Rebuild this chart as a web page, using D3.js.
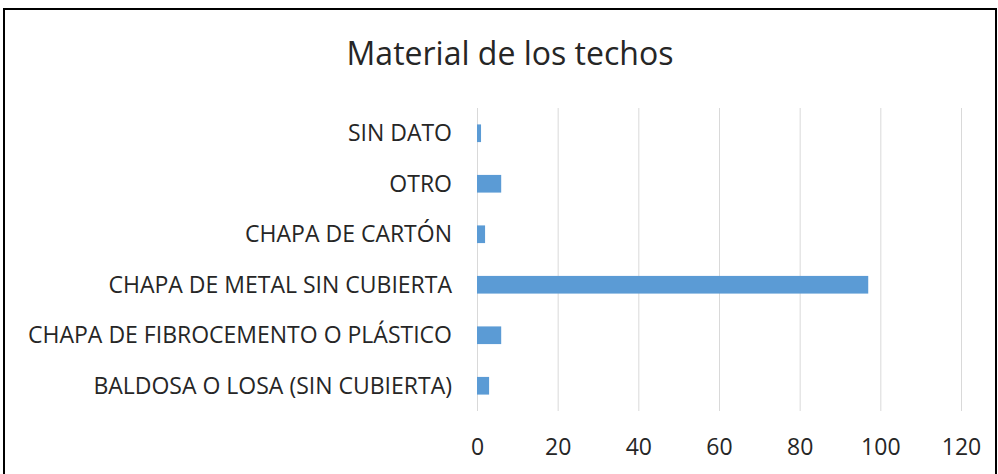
<!DOCTYPE html>
<html>
<head>
<meta charset="utf-8">
<script src="https://cdn.jsdelivr.net/npm/d3@7"></script>
<style>
	body { margin: 0; background: #fff; }
	svg text { font-family: "Open Sans", "Noto Sans", sans-serif; fill: #262626; }
</style>
</head>
<body>
<svg id="svg_main" width="998" height="474"></svg>
<script>
var categories = ["SIN DATO", "OTRO", "CHAPA DE CARTÓN", "CHAPA DE METAL SIN CUBIERTA",
	"CHAPA DE FIBROCEMENTO O PLÁSTICO", "BALDOSA O LOSA (SIN CUBIERTA)"];
var values = [1, 6, 2, 97, 6, 3];
var xTicks = [0, 20, 40, 60, 80, 100, 120];
var title = "Material de los techos";

var svg = d3.select("#svg_main");

// chart frame
svg.append("rect")
	.attr("x", 4)
	.attr("y", 9)
	.attr("width", 992)
	.attr("height", 480)
	.attr("fill", "none")
	.attr("stroke", "#000")
	.attr("stroke-width", 2);

svg.append("text")
	.attr("x", 510)
	.attr("y", 65)
	.attr("text-anchor", "middle")
	.attr("font-size", "32px")
	.text(title);

var x = d3.scaleLinear().domain([0, 120]).range([477, 961]);
var y = d3.scaleBand().domain(categories).range([108, 411]).paddingInner(0.65).paddingOuter(0.325);

// vertical grid
svg.append("g")
	.selectAll("line")
	.data(xTicks)
	.enter().append("line")
	.attr("x1", d => x(d) + 0.5)
	.attr("x2", d => x(d) + 0.5)
	.attr("y1", 108)
	.attr("y2", 411)
	.attr("stroke", "#d9d9d9")
	.attr("stroke-width", 1);

svg.append("g")
	.selectAll("rect")
	.data(values)
	.enter().append("rect")
	.attr("x", x(0))
	.attr("y", (d, i) => y(categories[i]))
	.attr("width", d => x(d) - x(0))
	.attr("height", y.bandwidth())
	.attr("fill", "#5b9bd5");

// category labels
var yAxis = d3.axisLeft(y).tickSize(0).tickPadding(25);
var gy = svg.append("g")
	.attr("transform", `translate(${x(0)}, 0)`)
	.call(yAxis);
gy.select(".domain").remove();
gy.selectAll(".tick text")
	.attr("font-size", "23px")
	.attr("font-family", null)
	.attr("dy", "0.35em");

var xAxis = d3.axisBottom(x).tickValues(xTicks).tickSize(0);
var gx = svg.append("g")
	.attr("transform", "translate(0, 411)")
	.call(xAxis);
gx.select(".domain").remove();
gx.selectAll(".tick text")
	.attr("y", 44)
	.attr("dy", 0)
	.attr("font-size", "23px")
	.attr("font-family", null);
</script>
</body>
</html>
